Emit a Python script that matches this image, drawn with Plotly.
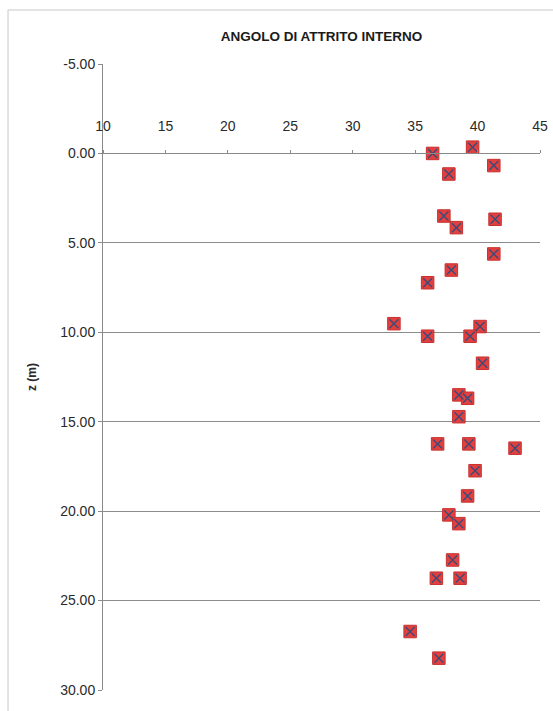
import plotly.graph_objects as go

# Internal friction angle (degrees) against depth z (m)
angolo = [36.4, 39.6, 41.3, 37.7, 37.3, 41.4, 38.3, 41.3, 37.9, 36.0,
          33.3, 36.0, 40.2, 39.4, 40.4, 38.5, 39.2, 38.5, 36.8, 39.3,
          43.0, 39.8, 39.2, 37.7, 38.5, 38.0, 36.7, 38.6, 34.6, 36.9]
z = [0.0, -0.35, 0.68, 1.15, 3.5, 3.68, 4.15, 5.62, 6.52, 7.23,
     9.52, 10.22, 9.68, 10.22, 11.73, 13.5, 13.69, 14.72, 16.24, 16.24,
     16.48, 17.74, 19.15, 20.21, 20.7, 22.73, 23.75, 23.75, 26.73, 28.22]

x_ticks = [10, 15, 20, 25, 30, 35, 40, 45]
z_ticks = [-5, 0, 5, 10, 15, 20, 25, 30]
z_grid = [0, 5, 10, 15, 20, 25]

FONT = "Liberation Sans, Arial, sans-serif"
TXT = "#2a2a2a"
AX = "#8a8a8a"

W, H = 553, 711
L, R, T, B = 103, 13, 64, 21
PW, PH = W - L - R, H - T - B

fig = go.Figure()

# red square body of each marker
fig.add_trace(go.Scatter(
    x=angolo, y=z, mode="markers",
    marker=dict(symbol="square", size=12.5, color="#e2403e",
                line=dict(color="#c8302e", width=1)),
    showlegend=False, cliponaxis=False,
))
# dark cross drawn over each square
fig.add_trace(go.Scatter(
    x=angolo, y=z, mode="markers",
    marker=dict(symbol="x-thin", size=9,
                line=dict(color="#3d4a78", width=1.4)),
    showlegend=False, cliponaxis=False,
))

# helper trace on the gridline axis so it is rendered
fig.add_trace(go.Scatter(x=[None], y=[None], yaxis="y2", showlegend=False))

fig.update_layout(
    width=W, height=H,
    margin=dict(l=L, r=R, t=T, b=B, autoexpand=False),
    paper_bgcolor="white", plot_bgcolor="white",
    font=dict(family=FONT, color=TXT),
    title=dict(text="<b>ANGOLO DI ATTRITO INTERNO</b>", x=(0.5 * PW + L) / W,
               xanchor="center", y=1 - 36 / H, yanchor="middle",
               font=dict(size=13.5, color="#1a1a1a")),
    xaxis=dict(range=[10, 45], tickvals=x_ticks, ticktext=[str(v) for v in x_ticks],
               side="top", anchor="free", position=1 - (153.4 - T) / PH,
               showline=True, linecolor=AX, linewidth=1,
               ticks="outside", ticklen=3, tickcolor=AX,
               ticklabelstandoff=14, automargin=False,
               tickfont=dict(size=14, color=TXT),
               showgrid=False, zeroline=False, fixedrange=True),
    yaxis=dict(range=[30, -5], tickvals=z_ticks,
               ticktext=[f"{v:.2f}" for v in z_ticks],
               showline=True, linecolor=AX, linewidth=1,
               ticks="outside", ticklen=4, tickcolor=AX,
               tickfont=dict(size=14, color=TXT),
               showgrid=False, zeroline=False, automargin=False,
               title=dict(text="<b>z (m)</b>", font=dict(size=12, color=TXT),
                          standoff=20)),
    yaxis2=dict(range=[30, -5], overlaying="y", tickvals=z_grid,
                showticklabels=False, showgrid=True, gridcolor="#8c8c8c",
                gridwidth=1, zeroline=False, showline=False, automargin=False),
    # faint frame along the top and left of the chart area
    shapes=[
        dict(type="line", xref="paper", yref="paper",
             x0=(8 - L) / PW, x1=(W - L) / PW,
             y0=1 + (T - 10) / PH, y1=1 + (T - 10) / PH,
             line=dict(color="#c8c8c8", width=1)),
        dict(type="line", xref="paper", yref="paper",
             x0=(8 - L) / PW, x1=(8 - L) / PW,
             y0=1 + (T - 10) / PH, y1=1 - (H - T) / PH,
             line=dict(color="#c8c8c8", width=1)),
    ],
)

fig.write_html("out.html")
